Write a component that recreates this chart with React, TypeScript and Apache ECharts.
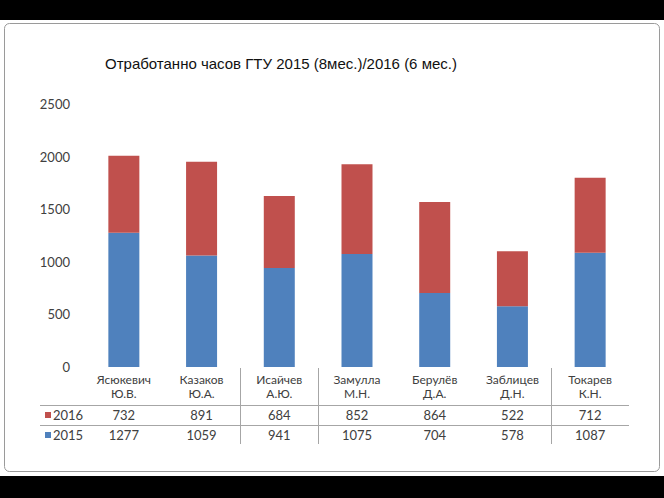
import React, { useEffect, useRef } from "react";
import * as echarts from "echarts";

const TITLE = "Отработанно часов ГТУ 2015 (8мес.)/2016 (6 мес.)";
const NAMES = ["Ясюкевич", "Казаков", "Исайчев", "Замулла", "Берулёв", "Заблицев", "Токарев"];
const INITIALS = ["Ю.В.", "Ю.А.", "А.Ю.", "М.Н.", "Д.А.", "Д.Н.", "К.Н."];
const SERIES_2016 = [732, 891, 684, 852, 864, 522, 712];
const SERIES_2015 = [1277, 1059, 941, 1075, 704, 578, 1087];
const Y_MAX = 2500;
const Y_STEP = 500;

const BLUE = "#4F81BD";
const RED = "#C0504D";
const TXT = "#404040";
const FONT = "Lato, 'Liberation Sans', sans-serif";

export default function App() {
  const ref = useRef<HTMLDivElement>(null);
  useEffect(() => {
    if (!ref.current) return;
    const chart = echarts.init(ref.current, null, { renderer: "svg" });
    const categories = NAMES.map((n, i) => n + "|" + INITIALS[i] + "|" + i);
    const lineStyle = { stroke: "#a6a6a6", lineWidth: 1 };
    chart.setOption({
      animation: false,
      backgroundColor: "#000",
      title: {
        text: TITLE,
        left: 100,
        top: 51,
        textStyle: { fontFamily: "'Liberation Sans', Arial, sans-serif", fontSize: 15, fontWeight: "normal", color: "#111" },
      },
      grid: { left: 85, right: 35, top: 104, bottom: 131 },
      xAxis: {
        type: "category",
        data: categories,
        axisLine: { show: false },
        axisTick: { show: false },
        axisLabel: {
          interval: 0,
          margin: 5,
          fontFamily: FONT,
          formatter: (v: string) => {
            const [n, ini, idx] = v.split("|");
            const i = Number(idx);
            return `{n|${n}}\n{n|${ini}}\n{a|${SERIES_2016[i]}}\n{b|${SERIES_2015[i]}}`;
          },
          rich: {
            n: { fontFamily: FONT, fontSize: 12, color: TXT, lineHeight: 14 },
            a: { fontFamily: FONT, fontSize: 13, color: TXT, lineHeight: 30 },
            b: { fontFamily: FONT, fontSize: 13, color: TXT, lineHeight: 10 },
          },
        },
      },
      yAxis: {
        type: "value",
        min: 0,
        max: Y_MAX,
        interval: Y_STEP,
        axisLine: { show: false },
        axisTick: { show: false },
        splitLine: { show: false },
        axisLabel: { margin: 15, fontFamily: FONT, fontSize: 13, color: TXT, formatter: (v: number) => String(v) },
      },
      series: [
        { name: "2015", type: "bar", stack: "t", data: SERIES_2015, barWidth: 31, itemStyle: { color: BLUE } },
        { name: "2016", type: "bar", stack: "t", data: SERIES_2016, barWidth: 31, itemStyle: { color: RED } },
      ],
      graphic: [
        { type: "rect", z: -10, shape: { x: 0, y: 20, width: 664, height: 456 }, style: { fill: "#fff" } },
        { type: "rect", z: -5, shape: { x: 4.5, y: 23.5, width: 655, height: 448, r: 5 }, style: { fill: "#fff", stroke: "#9a9a9a", lineWidth: 1 } },
        { type: "line", shape: { x1: 40, y1: 405.5, x2: 629, y2: 405.5 }, style: lineStyle },
        { type: "line", shape: { x1: 40, y1: 425.5, x2: 629, y2: 425.5 }, style: lineStyle },
        { type: "line", shape: { x1: 240.5, y1: 368, x2: 240.5, y2: 444 }, style: lineStyle },
        { type: "line", shape: { x1: 318.5, y1: 368, x2: 318.5, y2: 444 }, style: lineStyle },
        { type: "line", shape: { x1: 551.5, y1: 368, x2: 551.5, y2: 444 }, style: lineStyle },
        { type: "rect", shape: { x: 45, y: 412, width: 6, height: 6 }, style: { fill: RED } },
        { type: "rect", shape: { x: 45, y: 432, width: 6, height: 6 }, style: { fill: BLUE } },
        { type: "text", x: 53, y: 415, style: { text: "2016", fontFamily: FONT, fontSize: 13, fill: TXT, verticalAlign: "middle" } },
        { type: "text", x: 53, y: 435, style: { text: "2015", fontFamily: FONT, fontSize: 13, fill: TXT, verticalAlign: "middle" } },
      ],
    });
    return () => chart.dispose();
  }, []);
  return <div ref={ref} style={{ position: "absolute", left: 0, top: 0, width: 664, height: 498 }} />;
}
